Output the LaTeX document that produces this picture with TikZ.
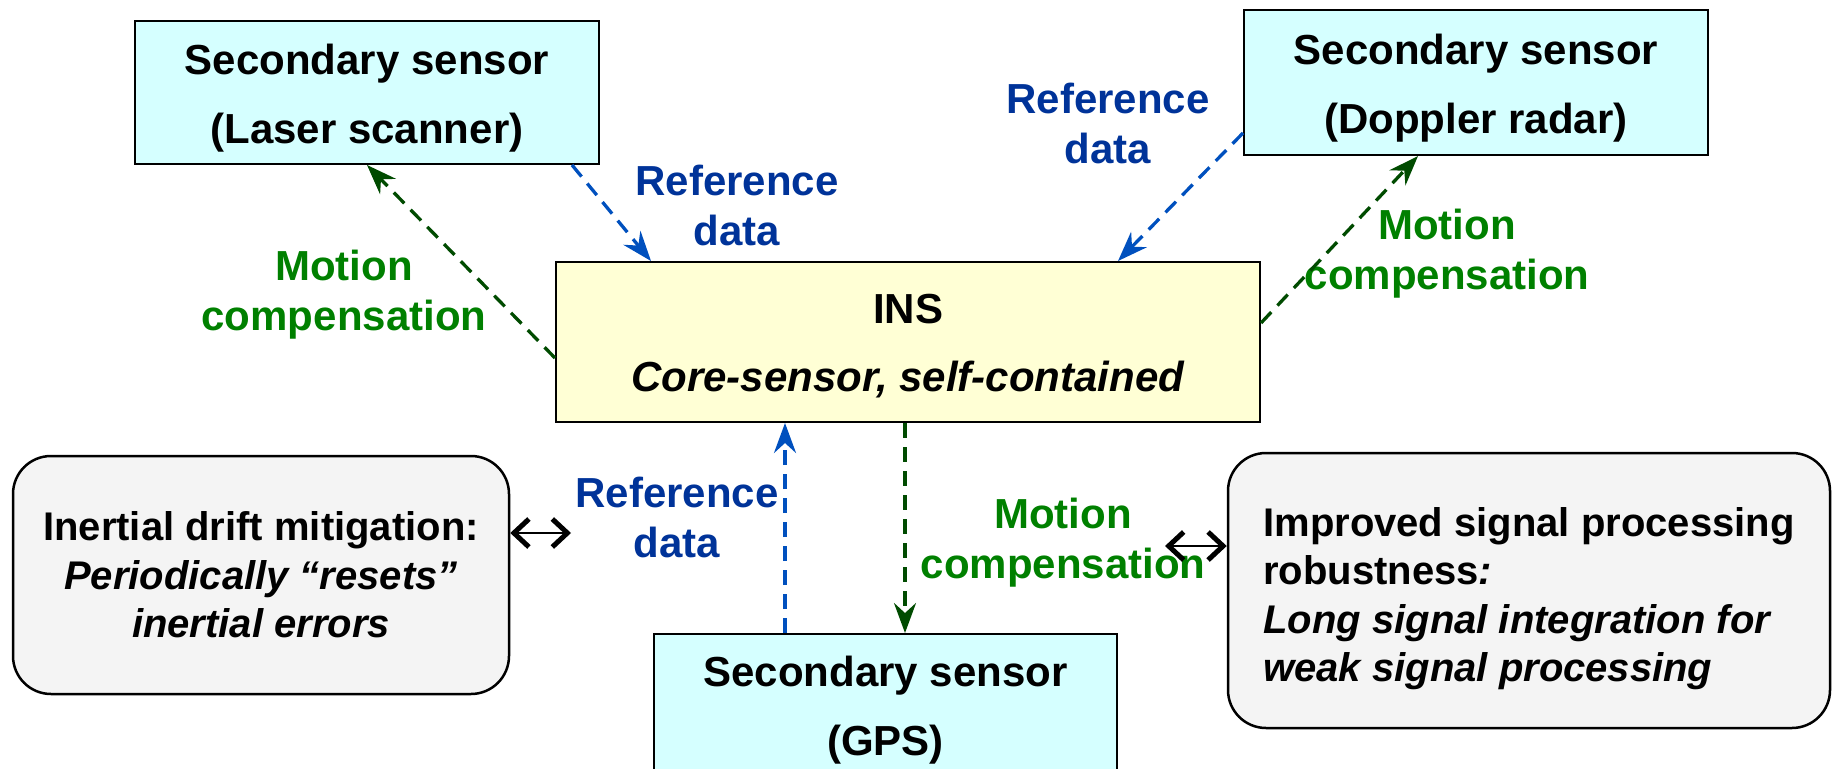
\documentclass[tikz,border=0pt]{standalone}
\usepackage{fontspec}
\setmainfont{Liberation Sans}
\usetikzlibrary{arrows.meta,calc}

\definecolor{sensorfill}{RGB}{213,255,255}
\definecolor{insfill}{RGB}{255,255,213}
\definecolor{notefill}{RGB}{244,244,244}
\definecolor{reftext}{RGB}{0,51,153}
\definecolor{refline}{RGB}{0,80,190}
\definecolor{mottext}{RGB}{0,128,0}
\definecolor{motline}{RGB}{0,75,0}

% raises the top of the first line so the text block sits a little lower in its box
\newcommand{\toppad}{\rule{0pt}{42pt}}

\tikzset{
  sensorbox/.style={draw=black, line width=2pt, fill=sensorfill, inner sep=0pt,
    minimum width=464pt, minimum height=145pt, align=center,
    font=\fontsize{42}{69}\selectfont\bfseries},
  insbox/.style={draw=black, line width=2pt, fill=insfill, inner sep=0pt,
    minimum width=704pt, minimum height=160pt, align=center,
    font=\fontsize{42}{68}\selectfont\bfseries},
  notebox/.style={draw=black, line width=2.5pt, fill=notefill, rounded corners=38pt,
    inner sep=0pt, font=\fontsize{40}{48.5}\selectfont\bfseries},
  reflabel/.style={text=reftext, align=center, font=\fontsize{42}{50}\selectfont\bfseries},
  motlabel/.style={text=mottext, align=center, font=\fontsize{42}{50}\selectfont\bfseries},
  refarrow/.style={draw=refline, line width=3.3pt, dash pattern=on 15pt off 9pt,
    -{Stealth[length=30pt,width=22pt,inset=10pt]}},
  motarrow/.style={draw=motline, line width=3.3pt, dash pattern=on 15pt off 9pt,
    -{Stealth[length=30pt,width=22pt,inset=10pt]}},
  linkarrow/.style={draw=black, line width=1.8pt,
    {Straight Barb[length=15pt,width=28pt,line width=5pt]}-{Straight Barb[length=15pt,width=28pt,line width=5pt]}}
}

\begin{document}
\begin{tikzpicture}[x=1pt,y=-1pt]
\useasboundingbox (0,0) rectangle (1833,768);
\begin{scope}
\clip (0,0) rectangle (1833,768);

% sensors
\node[sensorbox, minimum height=143pt] (laser) at (367,92.5) {\toppad Secondary sensor\\(Laser scanner)};
\node[sensorbox] (doppler) at (1476,82.5) {\toppad Secondary sensor\\(Doppler radar)};
\node[insbox] (ins) at (908,342) {\rule{0pt}{38pt}INS\\\textit{Core-sensor, self-contained}};
\node[sensorbox, minimum width=463pt] (gps) at (885.5,706.5) {\rule{0pt}{38pt}Secondary sensor\\(GPS)};

% benefit notes
\node[notebox, minimum width=496pt, minimum height=238pt, align=center] (drift) at (261,575)
  {Inertial drift mitigation:\\\textit{Periodically “resets”}\\\textit{inertial errors}};
\node[notebox, minimum width=602pt, minimum height=275pt, align=left] (robust) at (1529,590.5)
  {\rule{0pt}{45pt}Improved signal processing\\robustness\textit{:}\\\textit{Long signal integration for}\\\textit{weak signal processing}};

% labels
\node[reflabel] (ref1) at (737,205) {Reference\\data};
\node[motlabel] (mot1) at (344,295) {Motion\\compensation};
\node[reflabel] (ref2) at (1108,123) {Reference\\data};
\node[motlabel] (mot2) at (1447,254) {Motion\\compensation};
\node[reflabel] (ref3) at (677,517) {Reference\\data};
\node[motlabel] (mot3) at (1063,543) {Motion\\compensation};

% laser scanner links
\draw[motarrow] ($(ins.west)+(0,16)$) -- (laser.south);
\draw[refarrow] ($(laser.south)+(205,0)$) -- ($(ins.north west)+(96,0)$);

% doppler radar links
\draw[refarrow] ($(doppler.south west)+(0,-23)$) -- ($(ins.north east)+(-143,0)$);
\draw[motarrow] ($(ins.east)+(0,-19)$) -- ($(doppler.south)+(-58,0)$);

% GPS links
\coordinate (gpsref) at ($(gps.north)+(-100.5,0)$);
\draw[refarrow] (gpsref) -- (gpsref |- ins.south);
\coordinate (insmot) at ($(ins.south)+(-3,0)$);
\draw[motarrow] (insmot) -- (insmot |- gps.north);

% benefit links
\coordinate (driftend) at (571,533);
\draw[linkarrow] ($(drift.east)+(0,-42)$) -- (driftend);
\coordinate (robustend) at (1165,546);
\draw[linkarrow] (robustend) -- ($(robust.west)+(0,-44.5)$);
\end{scope}
\end{tikzpicture}
\end{document}
